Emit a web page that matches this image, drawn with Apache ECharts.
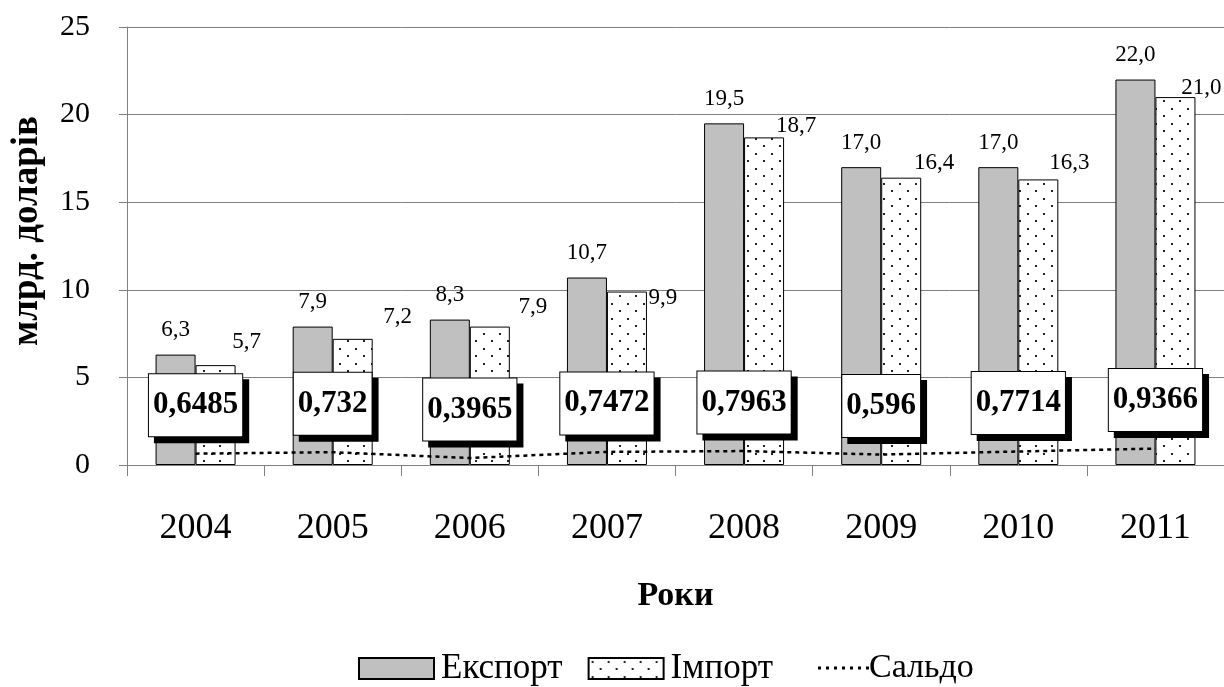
<!DOCTYPE html>
<html>
<head>
<meta charset="utf-8">
<script src="https://cdn.jsdelivr.net/npm/echarts@6/dist/echarts.min.js"></script>
<style>
  html, body { margin: 0; padding: 0; background: #fff; }
  #chart { width: 1224px; height: 687px; }
</style>
</head>
<body>
<div id="chart"></div>
<script>
const years = ['2004', '2005', '2006', '2007', '2008', '2009', '2010', '2011'];
const exportVals = [6.3, 7.9, 8.3, 10.7, 19.5, 17.0, 17.0, 22.0];
const importVals = [5.7, 7.2, 7.9, 9.9, 18.7, 16.4, 16.3, 21.0];
const saldoVals = [0.6485, 0.732, 0.3965, 0.7472, 0.7963, 0.596, 0.7714, 0.9366];

// import labels were moved by hand in the original, keep the shifts apart
const importLabelShift = [[31, -12], [45, -10], [43, -8], [36, 18], [32, 0], [33, -3], [31, -5], [26, 2]];

const font = 'Liberation Serif, Times New Roman, serif';

// dotted fill for Імпорт
let dots = document.createElement('canvas');
dots.width = 16;
dots.height = 15;
let ctx = dots.getContext('2d');
ctx.fillStyle = '#fff';
ctx.fillRect(0, 0, 16, 15);
ctx.fillStyle = '#222';
ctx.fillRect(3, 3, 2, 2);
ctx.fillRect(11, 10, 2, 2);

// dotted line icon for the Сальдо legend entry
let dashIcon = 'path://';
for (let k = 0; k < 7; k++) {
  dashIcon += 'M' + (k * 8) + ',0h3v3h-3z';
}

let comma = (v, d) => (d === undefined ? String(v) : v.toFixed(d)).replace('.', ',');

let chart = echarts.init(document.getElementById('chart'));

let option = {
  animation: false,
  textStyle: { fontFamily: font, color: '#000' },
  grid: { left: 127, right: -1, top: 27, bottom: 222 },
  legend: [{
    data: [{ name: 'Експорт', icon: 'rect' }, { name: 'Імпорт', icon: 'rect' }],
    left: 353,
    top: 646,
    itemWidth: 75,
    itemHeight: 21,
    itemGap: 25,
    selectedMode: false,
    textStyle: { fontFamily: font, fontSize: 35, color: '#000', padding: [0, 0, 0, 2] }
  }, {
    data: [{ name: 'Сальдо', icon: dashIcon, itemStyle: { color: '#000' } }],
    left: 813,
    top: 646,
    itemWidth: 51,
    itemHeight: 21,
    selectedMode: false,
    textStyle: { fontFamily: font, fontSize: 34, color: '#000', padding: [0, 0, 0, -5] }
  }],
  xAxis: {
    type: 'category',
    data: years,
    name: 'Роки',
    nameLocation: 'middle',
    nameGap: 114,
    nameTextStyle: { fontFamily: font, fontSize: 34, fontWeight: 'bold', color: '#000' },
    axisLine: { lineStyle: { color: '#808080', width: 1 } },
    axisTick: { show: true, length: 11, lineStyle: { color: '#808080' } },
    axisLabel: { fontFamily: font, fontSize: 36, color: '#000', margin: 46 }
  },
  yAxis: {
    type: 'value',
    min: 0,
    max: 25,
    interval: 5,
    axisLine: { show: true, lineStyle: { color: '#808080', width: 1 } },
    axisTick: { show: true, length: 8, lineStyle: { color: '#808080' } },
    splitLine: { lineStyle: { color: '#808080', width: 1 } },
    axisLabel: { fontFamily: font, fontSize: 30, color: '#000', margin: 37 }
  },
  graphic: [{
    type: 'text',
    x: 27,
    y: 231,
    rotation: Math.PI / 2,
    style: {
      text: 'млрд. доларів',
      fontFamily: font,
      fontSize: 37,
      fontWeight: 'bold',
      fill: '#000',
      align: 'center',
      verticalAlign: 'middle'
    }
  }],
  series: [{
    name: 'Експорт',
    type: 'bar',
    data: exportVals,
    barWidth: 40,
    barGap: '0%',
    itemStyle: { color: '#c0c0c0', borderColor: '#000', borderWidth: 1 },
    label: {
      show: true,
      position: 'top',
      distance: 13,
      fontFamily: font,
      fontSize: 23,
      color: '#000',
      formatter: p => comma(p.value, 1)
    }
  }, {
    name: 'Імпорт',
    type: 'bar',
    barWidth: 40,
    data: importVals.map((v, i) => ({
      value: v,
      label: { offset: importLabelShift[i] }
    })),
    itemStyle: {
      color: { image: dots, repeat: 'repeat' },
      borderColor: '#000',
      borderWidth: 1
    },
    label: {
      show: true,
      position: 'top',
      distance: 0,
      fontFamily: font,
      fontSize: 23,
      color: '#000',
      formatter: p => comma(p.value, 1)
    }
  }, {
    name: 'Сальдо',
    type: 'line',
    data: saldoVals,
    symbol: 'circle',
    symbolSize: 1,
    showSymbol: true,
    z: 5,
    lineStyle: { color: '#000', width: 2.5, type: [4, 4] },
    itemStyle: { color: 'rgba(0,0,0,0)' },
    label: {
      show: true,
      position: 'top',
      distance: 17,
      fontFamily: font,
      fontSize: 31,
      fontWeight: 'bold',
      lineHeight: 34,
      color: '#000',
      backgroundColor: '#fff',
      borderColor: '#000',
      borderWidth: 1,
      padding: [14, 4],
      shadowColor: '#000',
      shadowBlur: 0,
      shadowOffsetX: 6,
      shadowOffsetY: 6,
      formatter: p => comma(p.value)
    }
  }]
};

chart.setOption(option);
</script>
</body>
</html>
